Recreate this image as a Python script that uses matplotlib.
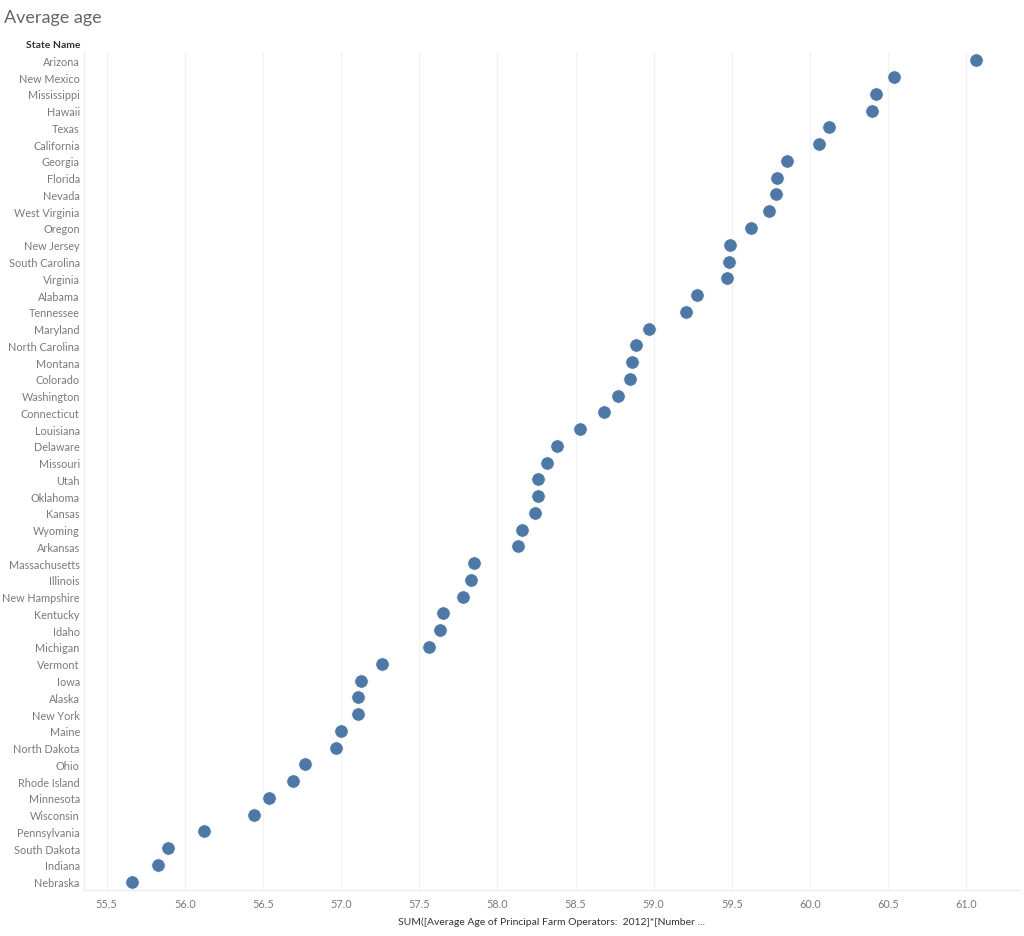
import matplotlib
matplotlib.use('Agg')
import matplotlib.pyplot as plt

states = ['Arizona', 'New Mexico', 'Mississippi', 'Hawaii', 'Texas', 'California',
          'Georgia', 'Florida', 'Nevada', 'West Virginia', 'Oregon', 'New Jersey',
          'South Carolina', 'Virginia', 'Alabama', 'Tennessee', 'Maryland',
          'North Carolina', 'Montana', 'Colorado', 'Washington', 'Connecticut',
          'Louisiana', 'Delaware', 'Missouri', 'Utah', 'Oklahoma', 'Kansas',
          'Wyoming', 'Arkansas', 'Massachusetts', 'Illinois', 'New Hampshire',
          'Kentucky', 'Idaho', 'Michigan', 'Vermont', 'Iowa', 'Alaska', 'New York',
          'Maine', 'North Dakota', 'Ohio', 'Rhode Island', 'Minnesota', 'Wisconsin',
          'Pennsylvania', 'South Dakota', 'Indiana', 'Nebraska']
avg_age = [61.06, 60.54, 60.42, 60.40, 60.12, 60.06,
           59.85, 59.79, 59.78, 59.74, 59.62, 59.49,
           59.48, 59.47, 59.28, 59.21, 58.97,
           58.89, 58.86, 58.85, 58.77, 58.68,
           58.53, 58.38, 58.32, 58.26, 58.26, 58.24,
           58.16, 58.13, 57.85, 57.83, 57.78,
           57.65, 57.63, 57.56, 57.26, 57.13, 57.11, 57.11,
           57.00, 56.97, 56.77, 56.69, 56.54, 56.44,
           56.12, 55.89, 55.83, 55.66]
xticks = [55.5, 56.0, 56.5, 57.0, 57.5, 58.0, 58.5, 59.0, 59.5, 60.0, 60.5, 61.0]

plt.rcParams['font.family'] = ['Lato', 'DejaVu Sans']

W, H = 1024, 937
fig = plt.figure(figsize=(W / 100, H / 100), dpi=100)
ax = fig.add_axes([84 / W, (H - 891) / H, (1020 - 84) / W, (891 - 53) / H])

ypos = list(range(len(states)))
ax.scatter(avg_age, ypos, s=95, color='#4e79a7', edgecolors='white', linewidths=0.6, zorder=3)

ax.set_xlim(55.355, 61.344)
ax.set_ylim(len(states) - 0.5, -0.5)
ax.set_xticks(xticks)
ax.set_xticklabels(['%.1f' % t for t in xticks])
ax.set_yticks(ypos)
ax.set_yticklabels(states)
ax.tick_params(axis='both', length=0, labelsize=7.8, labelcolor='#7a7a7a')
ax.tick_params(axis='y', pad=3)
ax.tick_params(axis='x', pad=6)
ax.grid(axis='x', color='#f2f2f2', linewidth=0.9)
ax.set_axisbelow(True)
for side in ['top', 'right']:
    ax.spines[side].set_visible(False)
for side in ['left', 'bottom']:
    ax.spines[side].set_color('#ededed')
    ax.spines[side].set_linewidth(0.9)

ax.set_xlabel('SUM([Average Age of Principal Farm Operators:  2012]*[Number ...',
              fontsize=7.5, color='#333333', labelpad=5)

fig.text(80 / W, 1 - 45 / H, 'State Name', ha='right', va='center',
         fontsize=7.5, fontweight='bold', color='#333333')
fig.text(4 / W, 1 - 18 / H, 'Average age', ha='left', va='center',
         fontsize=13, color='#666666')

fig.savefig('out.png', dpi=100)
